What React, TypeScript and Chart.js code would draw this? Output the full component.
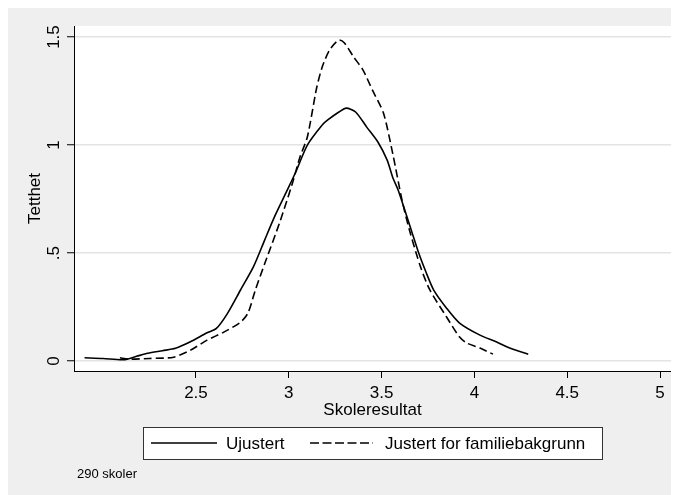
import React, { useEffect, useRef } from "react";
import { Chart, registerables } from "chart.js";

Chart.register(...registerables);

const seriesNames = ["Ujustert", "Justert for familiebakgrunn"];

const ujustertX = [1.90, 2.00, 2.11, 2.18, 2.24, 2.32, 2.39, 2.47, 2.56, 2.61, 2.67, 2.74, 2.81, 2.87, 2.92, 3.00, 3.04, 3.10, 3.18, 3.21, 3.27, 3.31, 3.36, 3.42, 3.48, 3.53, 3.56, 3.59, 3.66, 3.70, 3.74, 3.78, 3.85, 3.92, 4.03, 4.12, 4.19, 4.29];
const ujustertY = [0.015, 0.012, 0.006, 0.022, 0.036, 0.048, 0.059, 0.089, 0.131, 0.151, 0.221, 0.329, 0.437, 0.56, 0.662, 0.806, 0.88, 1.0, 1.093, 1.116, 1.153, 1.171, 1.153, 1.083, 1.014, 0.93, 0.85, 0.79, 0.606, 0.50, 0.41, 0.33, 0.245, 0.176, 0.12, 0.088, 0.06, 0.032];

const justertX = [2.09, 2.14, 2.25, 2.38, 2.47, 2.56, 2.65, 2.74, 2.78, 2.82, 2.87, 2.95, 3.02, 3.06, 3.10, 3.15, 3.18, 3.22, 3.27, 3.30, 3.35, 3.40, 3.45, 3.51, 3.56, 3.61, 3.65, 3.71, 3.76, 3.85, 3.92, 3.96, 4.03, 4.10];
const justertY = [0.015, 0.009, 0.012, 0.018, 0.05, 0.097, 0.134, 0.18, 0.222, 0.329, 0.45, 0.639, 0.824, 0.944, 1.037, 1.264, 1.361, 1.44, 1.486, 1.472, 1.407, 1.347, 1.255, 1.148, 0.96, 0.745, 0.606, 0.435, 0.329, 0.204, 0.111, 0.083, 0.06, 0.032];

const xTickValues = [2.5, 3, 3.5, 4, 4.5, 5];
const xTickLabels = ["2.5", "3", "3.5", "4", "4.5", "5"];
const yTickValues = [0, 0.5, 1, 1.5];
const yTickLabels = ["0", ".5", "1", "1.5"];

const xTitle = "Skoleresultat";
const yTitle = "Tetthet";
const note = "290 skoler";

const FONT = '"Liberation Sans", Arial, Helvetica, sans-serif';
const W = 671;
const H = 487;

const stataPlugin = {
  id: "stataLook",
  beforeDraw(chart: any) {
    const { ctx, chartArea: a, width, height } = chart;
    ctx.save();
    ctx.fillStyle = "#efefef";
    ctx.fillRect(0, 0, width, height);
    ctx.fillStyle = "#ffffff";
    ctx.fillRect(a.left, a.top, a.right - a.left, a.bottom - a.top);
    ctx.restore();
  },
  afterDraw(chart: any) {
    const { ctx, chartArea: a } = chart;
    const ys = chart.scales.y;
    ctx.save();
    ctx.fillStyle = "#000";
    ctx.font = `17px ${FONT}`;
    ctx.textAlign = "center";
    ctx.textBaseline = "middle";
    yTickValues.forEach((v, i) => {
      const py = ys.getPixelForValue(v);
      ctx.save();
      ctx.translate(a.left - 20, py);
      ctx.rotate(-Math.PI / 2);
      ctx.fillText(yTickLabels[i], 0, 0);
      ctx.restore();
    });

    // legend
    const cx = (a.left + a.right) / 2;
    const bx = Math.round(cx - 229.5);
    const by = 419;
    const bw = 459;
    const bh = 32;
    ctx.fillStyle = "#ffffff";
    ctx.fillRect(bx, by, bw, bh);
    ctx.strokeStyle = "#333";
    ctx.lineWidth = 1;
    ctx.strokeRect(bx + 0.5, by + 0.5, bw, bh);
    const ly = by + bh / 2;
    ctx.strokeStyle = "#000";
    ctx.lineWidth = 1.6;
    ctx.beginPath();
    ctx.moveTo(bx + 8, ly);
    ctx.lineTo(bx + 74, ly);
    ctx.stroke();
    ctx.setLineDash([9, 3.5]);
    ctx.beginPath();
    ctx.moveTo(bx + 167, ly);
    ctx.lineTo(bx + 230, ly);
    ctx.stroke();
    ctx.setLineDash([]);
    ctx.fillStyle = "#000";
    ctx.textAlign = "left";
    ctx.fillText(seriesNames[0], bx + 83, ly + 1);
    ctx.fillText(seriesNames[1], bx + 242, ly + 1);

    // note
    ctx.font = `13px ${FONT}`;
    ctx.fillText(note, 69, 466);
    ctx.restore();
  },
};

export default function App() {
  const ref = useRef<HTMLCanvasElement | null>(null);

  useEffect(() => {
    document.documentElement.style.overflow = "hidden";
    document.body.style.overflow = "hidden";
    const canvas = ref.current;
    if (!canvas) return;
    const chart = new Chart(canvas, {
      type: "line",
      data: {
        datasets: [
          {
            label: seriesNames[0],
            data: ujustertX.map((x, i) => ({ x, y: ujustertY[i] })),
            borderColor: "#000",
            borderWidth: 1.6,
            pointRadius: 0,
            tension: 0.25,
            fill: false,
          },
          {
            label: seriesNames[1],
            data: justertX.map((x, i) => ({ x, y: justertY[i] })),
            borderColor: "#000",
            borderWidth: 1.6,
            borderDash: [8, 4],
            pointRadius: 0,
            tension: 0.25,
            fill: false,
          },
        ],
      },
      options: {
        responsive: false,
        animation: false,
        devicePixelRatio: 1,
        layout: { padding: { left: 0, top: 18, right: 8, bottom: 74 } },
        plugins: {
          legend: { display: false },
          tooltip: { enabled: false },
        },
        scales: {
          x: {
            type: "linear",
            min: 1.843,
            max: 5.059,
            afterBuildTicks: (s: any) => {
              s.ticks = xTickValues.map((v) => ({ value: v }));
            },
            afterFit: (s: any) => {
              s.height = 50;
            },
            ticks: {
              autoSkip: false,
              maxRotation: 0,
              padding: 5,
              color: "#000",
              font: { family: FONT, size: 17 },
              callback: (v: any) => {
                const i = xTickValues.indexOf(Number(v));
                return i >= 0 ? xTickLabels[i] : "";
              },
            },
            grid: {
              display: true,
              drawOnChartArea: false,
              drawTicks: true,
              tickLength: 7,
              tickColor: "#000",
              tickWidth: 1,
            },
            border: { display: true, color: "#000", width: 1 },
            title: {
              display: true,
              text: xTitle,
              color: "#000",
              font: { family: FONT, size: 17 },
              padding: { top: 0, bottom: 0 },
            },
          },
          y: {
            type: "linear",
            min: -0.046,
            max: 1.551,
            afterBuildTicks: (s: any) => {
              s.ticks = yTickValues.map((v) => ({ value: v }));
            },
            afterFit: (s: any) => {
              s.width = 66;
            },
            ticks: { display: false },
            grid: {
              display: true,
              drawOnChartArea: true,
              drawTicks: true,
              tickLength: 7,
              color: "#e3e3e3",
              lineWidth: 1.5,
              tickColor: "#000",
              tickWidth: 1,
            },
            border: { display: true, color: "#000", width: 1 },
            title: {
              display: true,
              text: yTitle,
              color: "#000",
              font: { family: FONT, size: 17 },
              padding: { top: 17, bottom: 0 },
            },
          },
        },
      },
      plugins: [stataPlugin],
    });
    return () => chart.destroy();
  }, []);

  return (
    <canvas
      ref={ref}
      width={W}
      height={H}
      style={{ display: "block", width: W, height: H }}
    />
  );
}
